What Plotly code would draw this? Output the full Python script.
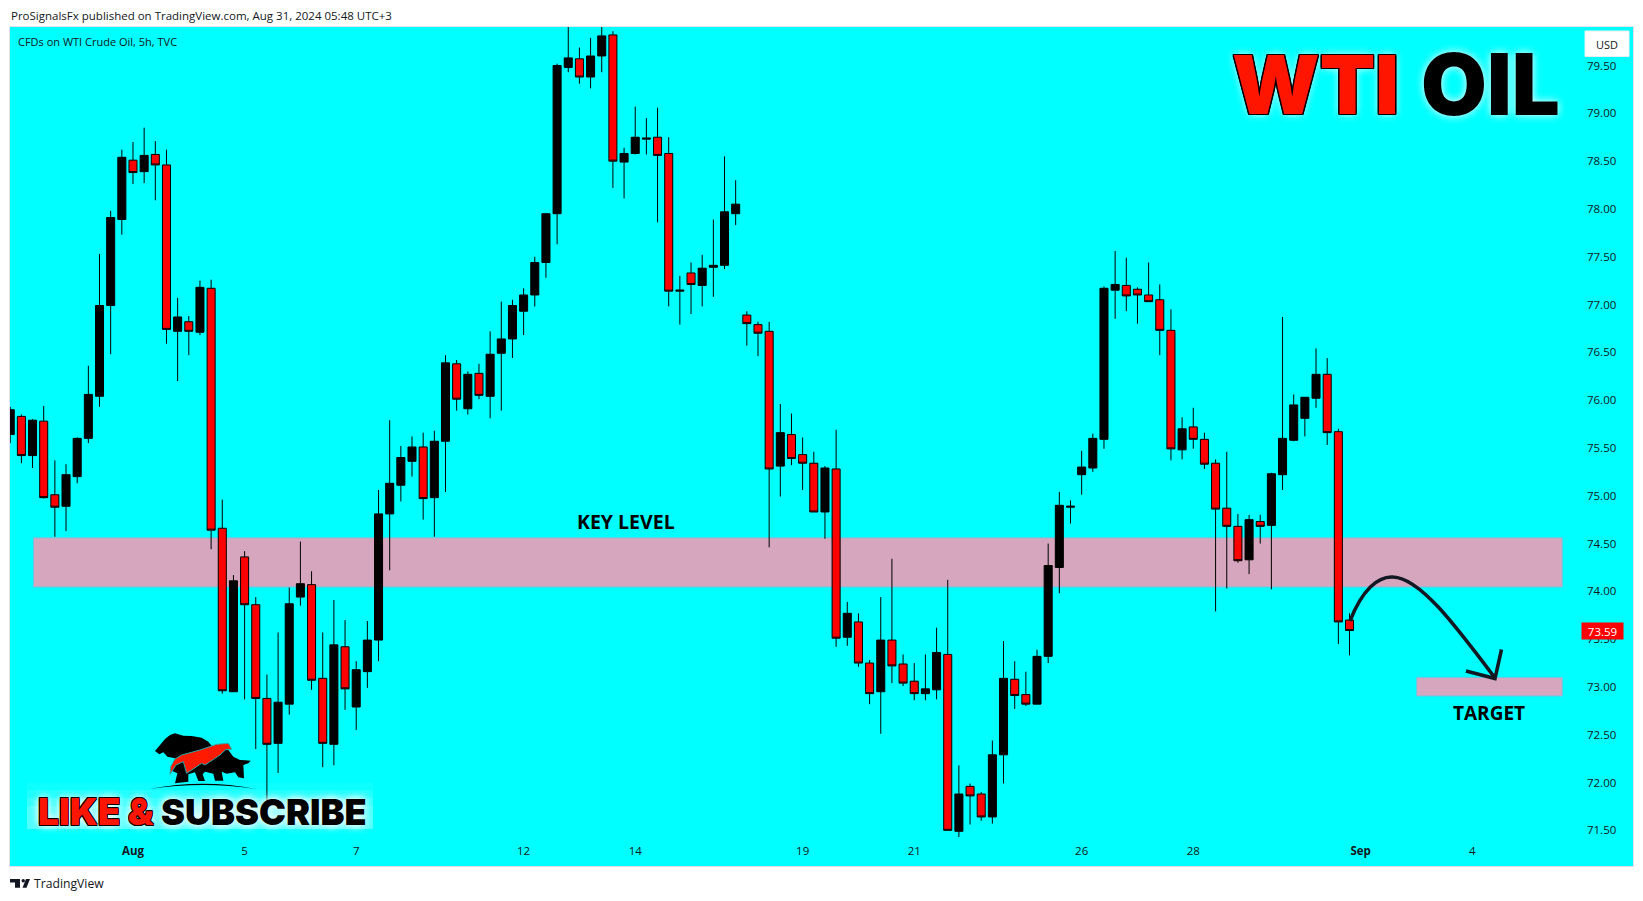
import plotly.graph_objects as go

W, H = 1643, 901
PL, PR, PT, PB = 10, 1633, 27, 866

opens = [75.64,75.83,75.42,75.78,75.01,74.89,75.20,75.60,76.04,76.99,77.89,78.51,78.39,78.57,78.46,76.72,76.82,76.71,77.17,74.66,
72.95,74.36,73.86,72.88,72.41,72.82,73.94,74.07,73.09,72.40,73.42,72.79,73.16,73.49,74.81,75.11,75.36,75.51,74.98,75.57,
76.38,75.91,76.28,76.04,76.49,76.64,76.93,77.10,77.44,77.95,79.48,79.57,79.38,79.60,79.82,78.49,78.58,78.73,78.75,78.58,
77.14,77.33,77.20,77.39,77.41,77.95,76.89,76.79,76.72,75.31,75.64,75.43,75.34,74.83,75.28,73.52,73.68,73.25,72.95,73.49,
73.24,73.06,72.93,72.97,73.34,71.49,71.96,71.88,71.64,72.29,73.08,72.92,72.82,73.32,74.25,74.88,75.22,75.29,75.59,77.15,
77.20,77.16,77.10,77.05,76.73,75.48,75.72,75.59,75.34,74.87,74.68,74.33,74.73,74.69,75.22,75.58,75.81,76.02,76.27,75.67,73.70]
highs = [75.93,75.85,75.80,75.94,75.37,75.33,75.61,76.36,77.53,77.98,78.62,78.70,78.85,78.71,78.62,77.07,76.88,77.25,77.26,74.96,
74.17,74.42,73.94,73.13,73.57,74.04,74.52,74.21,73.57,73.91,73.70,73.27,73.69,75.06,75.79,75.52,75.62,75.66,75.68,76.47,
76.42,76.30,76.38,76.72,77.03,77.05,77.17,77.50,77.95,79.52,79.98,79.69,79.79,79.93,79.86,78.64,79.07,78.95,79.06,78.75,
77.30,77.44,77.52,77.89,78.55,78.30,76.93,76.82,76.82,75.96,75.86,75.61,75.46,75.31,75.69,73.89,73.77,73.28,73.94,74.34,
73.34,73.25,73.34,73.62,74.12,72.18,71.99,71.90,72.44,73.48,73.27,73.16,73.39,74.50,75.04,74.95,75.47,75.65,77.19,77.56,
77.49,77.18,77.44,77.21,76.95,75.82,75.92,75.66,75.38,75.46,74.81,74.80,74.80,75.24,76.87,76.06,76.03,76.54,76.44,75.70,73.77]
lows = [75.55,75.34,75.29,74.97,74.57,74.63,75.13,75.55,75.93,76.48,77.73,78.26,78.27,78.09,76.59,76.20,76.47,76.68,74.44,72.93,
72.95,72.87,72.35,71.64,72.10,72.71,73.85,72.97,72.16,72.18,72.76,72.55,72.99,73.27,74.22,74.94,75.20,74.75,74.57,75.04,
75.89,75.85,76.01,75.81,75.89,76.44,76.68,76.98,77.28,77.63,79.43,79.31,79.26,79.43,78.22,78.11,78.57,78.57,77.86,76.98,
76.79,76.90,76.98,77.08,77.37,77.83,76.57,76.46,74.46,74.99,75.32,75.06,74.83,74.55,73.42,73.43,73.21,72.82,72.51,73.04,
73.01,72.86,72.86,72.87,71.50,71.43,71.56,71.60,71.57,71.99,72.77,72.80,72.82,73.25,73.98,74.71,75.01,75.25,75.49,76.85,
76.93,76.80,77.03,76.47,75.37,75.38,75.49,75.28,73.79,74.03,74.30,74.18,74.50,74.02,75.06,75.57,75.62,75.92,75.53,73.45,73.33]
closes = [75.90,75.42,75.79,74.98,74.88,75.22,75.60,76.06,76.99,77.91,78.54,78.38,78.56,78.46,76.74,76.87,76.72,77.18,74.64,72.96,
74.11,73.86,72.88,72.40,72.84,73.87,74.08,73.07,72.41,73.44,72.98,73.18,73.49,74.81,75.13,75.40,75.51,74.97,75.57,76.39,
76.01,76.27,76.05,76.48,76.64,76.99,77.10,77.44,77.95,79.50,79.58,79.38,79.60,79.81,78.50,78.58,78.75,78.74,78.56,77.14,
77.15,77.21,77.38,77.41,77.97,78.05,76.80,76.70,75.28,75.66,75.39,75.34,74.83,75.29,73.51,73.77,73.25,72.93,73.49,73.22,
73.04,72.93,72.98,73.36,71.50,71.88,71.86,71.64,72.29,73.09,72.91,72.82,73.32,74.27,74.90,74.89,75.30,75.60,77.17,77.21,
77.09,77.10,77.03,76.73,75.49,75.70,75.59,75.33,74.86,74.68,74.32,74.75,74.68,75.23,75.60,75.95,76.03,76.27,75.66,73.68,73.59]

price_ticks = [71.5,72.0,72.5,73.0,73.5,74.0,74.5,75.0,75.5,76.0,76.5,77.0,77.5,78.0,78.5,79.0,79.5]
date_ticks = [11,21,31,46,56,71,81,96,106,121,131]
date_labels = ["<b>Aug</b>","5","7","12","14","19","21","26","28","<b>Sep</b>","4"]
key_zone = (74.045, 74.56)
target_zone = (72.905, 73.10)
last_price = 73.59

X_RANGE = [-0.02, 145.4]
Y_RANGE = [71.127, 79.903]


def fx(px):
    return (px - PL) / (PR - PL)


def fy(py):
    return (PB - py) / (PB - PT)


def dx(px):
    return X_RANGE[0] + (px - PL) / (PR - PL) * (X_RANGE[1] - X_RANGE[0])


def path(points, close=True):
    s = "M" + " L".join(f"{fx(x):.5f},{fy(y):.5f}" for x, y in points)
    return s + (" Z" if close else "")


def zoomed(points, ox=120, oy=715):
    return [(ox + a / 3, oy + b / 3) for a, b in points]


def curve(cmds):
    out = []
    for c, pts in cmds:
        out.append(c + " ".join(f"{fx(x):.5f},{fy(y):.5f}" for x, y in pts))
    return " ".join(out)


fig = go.Figure(go.Candlestick(
    x=list(range(len(opens))), open=opens, high=highs, low=lows, close=closes,
    increasing=dict(fillcolor="#000000", line=dict(color="#000000", width=1)),
    decreasing=dict(fillcolor="#ff0000", line=dict(color="#000000", width=1)),
    whiskerwidth=0, hoverinfo="skip", showlegend=False,
))

ZONE = "#d5a6bd"
ZONE_EDGE = "#6fc4e0"
shapes = [
    dict(type="rect", xref="x", yref="y", x0=dx(33.5), x1=dx(1562.3), y0=key_zone[0], y1=key_zone[1],
         fillcolor=ZONE, line=dict(color=ZONE_EDGE, width=1), layer="below"),
    dict(type="rect", xref="x", yref="y", x0=dx(1416.7), x1=dx(1562.3), y0=target_zone[0], y1=target_zone[1],
         fillcolor=ZONE, line=dict(color=ZONE_EDGE, width=1), layer="below"),
]

# soft light panel behind the subscribe banner
for top, a in [(783, 0.05), (790, 0.08), (798, 0.10), (806, 0.12)]:
    shapes.append(dict(type="rect", xref="paper", yref="paper", x0=fx(27), x1=fx(373), y0=fy(829), y1=fy(top),
                       fillcolor=f"rgba(255,255,255,{a})", line=dict(width=0), layer="below"))

# curved arrow to target
ARROW = "#131722"
shapes.append(dict(type="path", xref="paper", yref="paper",
                   path=curve([("M", [(1350, 621)]),
                               ("C", [(1362, 590), (1378, 576), (1393, 577)]),
                               ("C", [(1420, 578), (1455, 625), (1495, 678)])]),
                   line=dict(color=ARROW, width=3.5), layer="above"))
shapes.append(dict(type="path", xref="paper", yref="paper",
                   path=path([(1466, 671), (1495, 678.5), (1501.5, 649.5)], close=False),
                   line=dict(color=ARROW, width=3.5), layer="above"))

# bear and bull emblem
body = [(105,108),(112,100),(122,88),(135,72),(150,60),(165,55),(190,62),(215,63),(245,68),(265,80),(280,98),
        (310,95),(325,105),(340,125),(360,135),(375,136),(392,137),(385,145),(370,150),(372,190),(355,187),(345,172),
        (320,176),(305,170),(310,197),(285,197),(280,176),(255,170),(248,178),(255,198),(235,198),(225,172),(205,178),
        (205,200),(165,205),(172,175),(150,165),(165,130),(142,125),(130,112),(118,118)]
shapes.append(dict(type="path", xref="paper", yref="paper", path=path(zoomed(body)),
                   fillcolor="#000000", line=dict(width=0), layer="above"))
flash = [(150,178),(152,155),(165,132),(185,120),(240,105),(290,88),(325,85),(335,103),(318,103),(300,120),(270,140),
         (255,150),(245,145),(200,175),(190,140),(168,150)]
shapes.append(dict(type="path", xref="paper", yref="paper", path=path(zoomed(flash)),
                   fillcolor="#ff1a00", line=dict(color="#2aa7a7", width=1), layer="above"))
g = zoomed([(88,222),(250,190),(408,222),(250,198)])
shapes.append(dict(type="path", xref="paper", yref="paper",
                   path=curve([("M", [g[0]]), ("Q", [g[1], g[2]]), ("Q", [g[3], g[0]])]) + " Z",
                   fillcolor="#000000", line=dict(width=0), layer="above"))

# USD box
shapes.append(dict(type="rect", xref="paper", yref="paper", x0=fx(1585), x1=fx(1629), y0=fy(56.5), y1=fy(31),
                   fillcolor="#ffffff", line=dict(color="#e8eef0", width=1), layer="above"))

# TradingView logo mark
shapes.append(dict(type="path", xref="paper", yref="paper",
                   path=path([(10,879),(20,879),(20,887.7),(15,887.7),(15,882.5),(10,882.5)]),
                   fillcolor="#131722", line=dict(width=0)))
shapes.append(dict(type="path", xref="paper", yref="paper",
                   path=path([(26,879),(30,879),(26.5,887.7),(22.5,887.7)]),
                   fillcolor="#131722", line=dict(width=0)))
shapes.append(dict(type="circle", xref="paper", yref="paper", x0=fx(21.5), x1=fx(25), y0=fy(882.5), y1=fy(879),
                   fillcolor="#131722", line=dict(width=0)))

INK = "#131722"
TXT = "Open Sans"


def note(text, px, py, size, color=INK, anchor="left", family=TXT, weight=None, shadow=None):
    font = dict(size=size, color=color, family=family)
    if weight:
        font["weight"] = weight
    if shadow:
        font["shadow"] = shadow
    return dict(text=text, xref="paper", yref="paper", x=fx(px), y=fy(py), xanchor=anchor, yanchor="middle",
                showarrow=False, font=font, borderpad=0)


def outline(c, w, extra=""):
    parts = [f"{a*w}px {b*w}px 0 {c}" for a, b in [(1,0),(-1,0),(0,1),(0,-1),(1,1),(-1,1),(1,-1),(-1,-1)]]
    return ",".join(parts) + extra


GLOW = "0 0 9px #ffffff,0 0 9px #ffffff"
annotations = [
    note("ProSignalsFx published on TradingView.com, Aug 31, 2024 05:48 UTC+3", 10, 15, 11.5),
    note("CFDs on WTI Crude Oil, 5h, TVC", 17, 41.5, 11),
    note("TradingView", 33, 883, 12.2),
    note("USD", 1607, 44.5, 11, anchor="center"),
    note("KEY LEVEL", 626, 521, 19.5, color="#000000", anchor="center", weight=700),
    note("TARGET", 1489, 713, 19, color="#000000", anchor="center", weight=700),
    note("WTI", 1231, 85, 81, color="#ff1500", family="Inter", weight=900,
         shadow=outline("#000", 1.2, ",0 0 8px #ffffff")),
    note("OIL", 1420, 85, 85, color="#000000", family="Inter", weight=900, shadow="0 0 8px #ffffff"),
    note("LIKE &", 37, 811.5, 37, color="#ff1500", family="Inter", weight=900, shadow=outline("#000", 0.7, "," + GLOW)),
    note("SUBSCRIBE", 160, 811.5, 36, color="#000000", family="Inter", weight=900, shadow=GLOW),
    dict(text=f"{last_price:.2f}", xref="paper", yref="y", x=fx(1602), y=last_price, xanchor="center", yanchor="middle",
         showarrow=False, bgcolor="#ff0000", width=41, height=16, borderpad=0,
         font=dict(size=11.5, color="#ffffff", family=TXT)),
]

fig.update_layout(
    width=W, height=H, autosize=False,
    margin=dict(l=PL, r=W - PR, t=PT, b=H - PB, pad=0),
    paper_bgcolor="#ffffff", plot_bgcolor="#00ffff",
    showlegend=False, hovermode=False, boxgap=0.28, boxgroupgap=0.0,
    shapes=shapes, annotations=annotations,
    xaxis=dict(range=X_RANGE, rangeslider=dict(visible=False), showgrid=False, zeroline=False,
               tickmode="array", tickvals=date_ticks, ticktext=date_labels, ticklen=0, side="bottom",
               ticklabelposition="inside", ticklabelstandoff=8, tickangle=0,
               tickfont=dict(size=11.5, color=INK, family=TXT),
               showline=True, linecolor="#e0e3eb", linewidth=1, mirror=True),
    yaxis=dict(range=Y_RANGE, side="right", showgrid=False, zeroline=False,
               tickmode="array", tickvals=price_ticks, ticktext=[f"{t:.2f}" for t in price_ticks], ticklen=0,
               ticklabelposition="inside", ticklabelstandoff=16,
               tickfont=dict(size=11.5, color=INK, family=TXT),
               showline=True, linecolor="#e0e3eb", linewidth=1, mirror=True),
)

fig.write_html("out.html", config=dict(displayModeBar=False),
               post_script="document.body.style.margin='0';")
